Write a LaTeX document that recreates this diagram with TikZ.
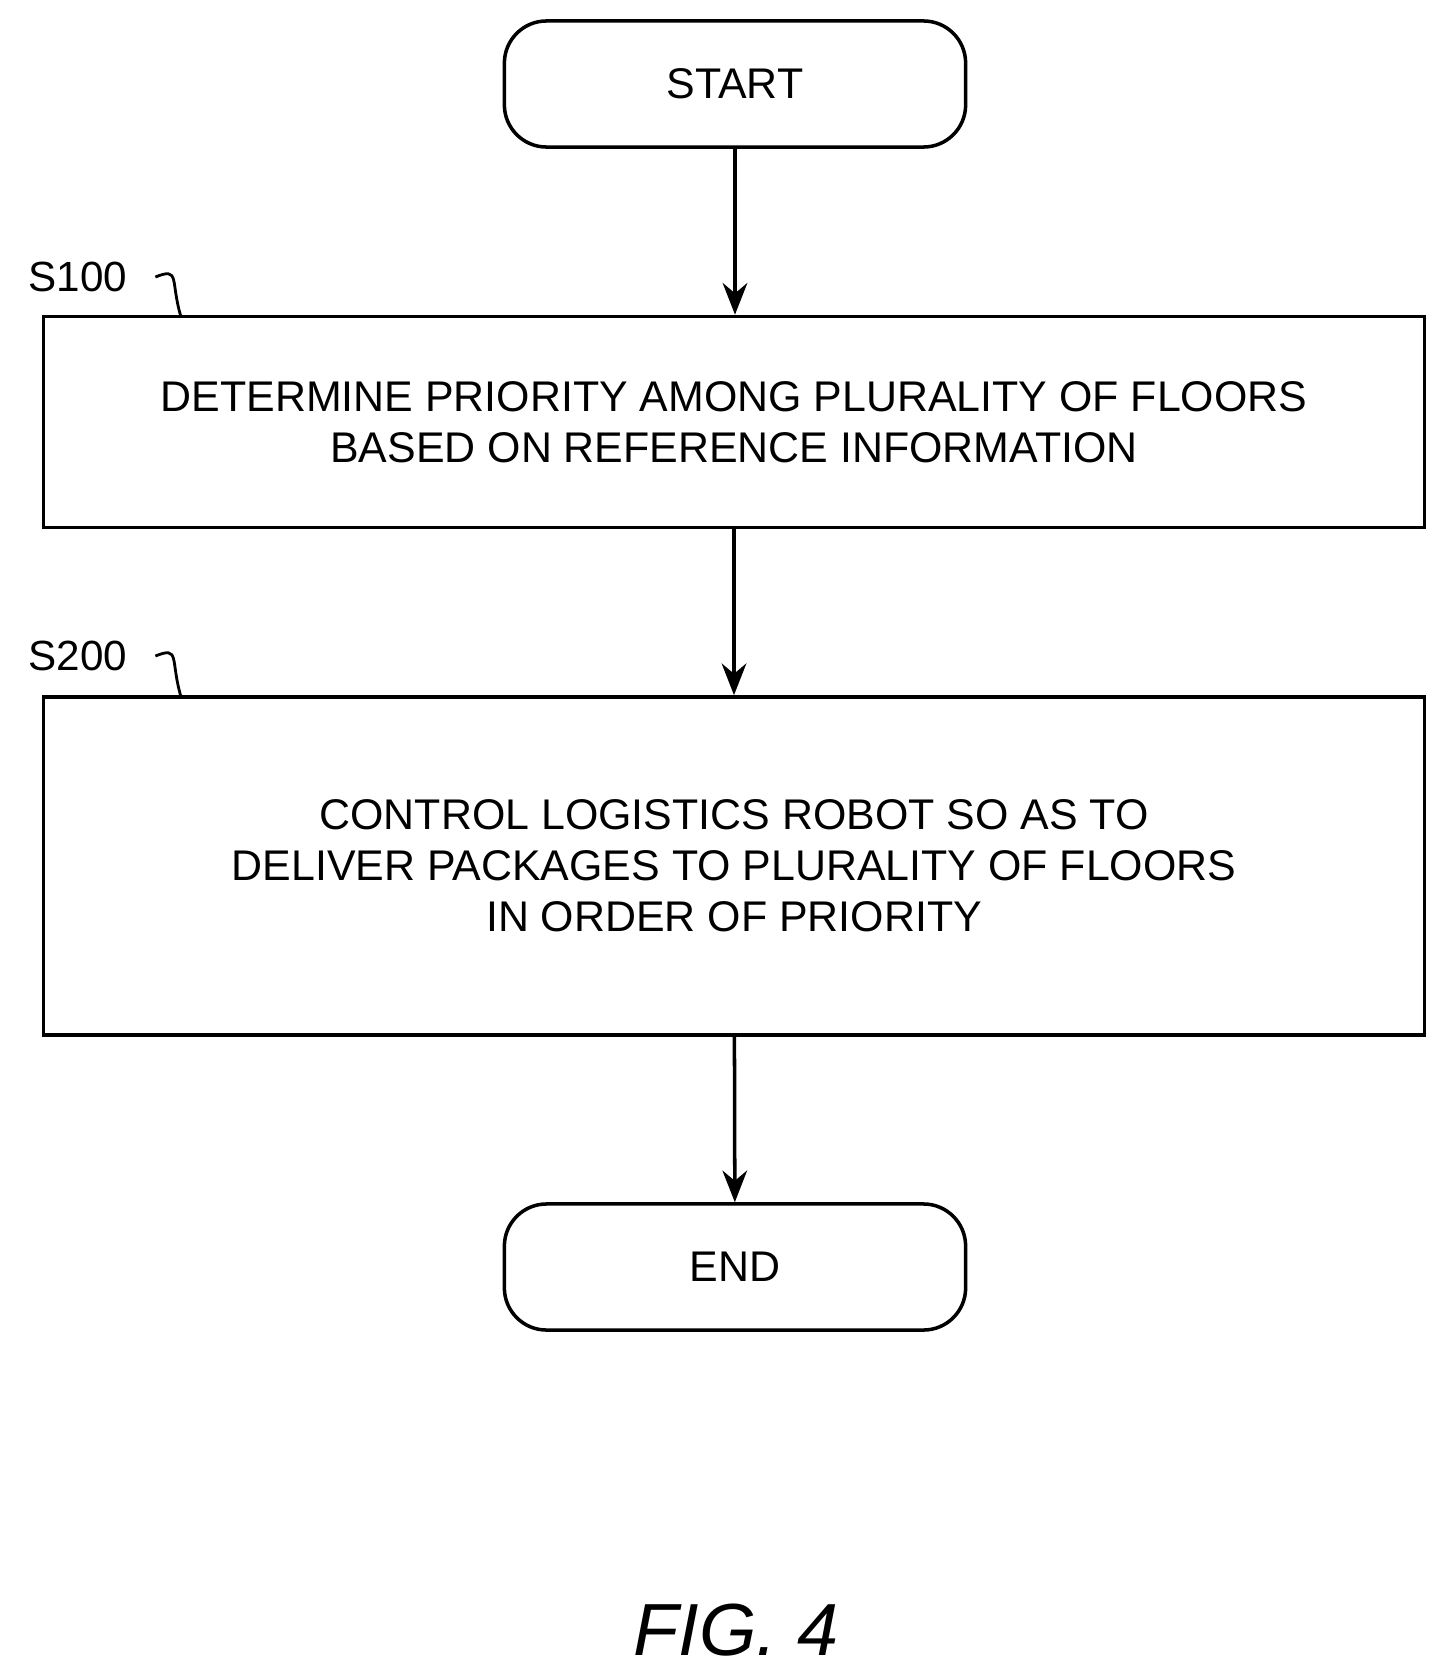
\documentclass[tikz,border=0pt]{standalone}
\usepackage{fontspec}
\setmainfont{Liberation Sans}
\usetikzlibrary{arrows.meta,positioning}
\tikzset{
  flow/.style={draw, line width=1pt, align=center, font=\fontsize{12.2}{14.5}\selectfont},
  term/.style={flow, rounded corners=12pt, minimum width=4.61cm, minimum height=1.26cm},
  proc/.style={flow, minimum width=13.8cm},
  link/.style={-{Stealth[length=9pt,width=7pt]}, line width=1pt},
  tag/.style={font=\fontsize{12}{14}\selectfont}
}
\begin{document}
\begin{tikzpicture}[x=0.01cm,y=-0.01cm]
    \useasboundingbox (0,0) rectangle (1451,1679);
    \node[term] (start) at (735,84) {START};
    \node[proc, minimum height=2.11cm] (s100) at (734,422) {DETERMINE PRIORITY AMONG PLURALITY OF FLOORS\\BASED ON REFERENCE INFORMATION};
    \node[proc, minimum height=3.38cm] (s200) at (734,866) {CONTROL LOGISTICS ROBOT SO AS TO\\DELIVER PACKAGES TO PLURALITY OF FLOORS\\IN ORDER OF PRIORITY};
    \node[term] (end) at (735,1267) {END};

    \draw[link] (start) -- (start |- s100.north);
    \draw[link] (s100) -- (s100 |- s200.north);
    \draw[link] (s200) -- (end);

    % step labels
    \node[tag, anchor=west] (t100) at (16,277) {S100};
    \node[tag, anchor=west] (t200) at (16,656) {S200};
    \draw[line width=0.8pt] (t100.east) ++(16,0) coordinate (c100) .. controls ++(25,-10) and (170,280) .. (181,317);
    \draw[line width=0.8pt] (t200.east) ++(16,0) coordinate (c200) .. controls ++(25,-10) and (170,659) .. (181,697);

    \node[font=\itshape\fontsize{21}{24}\selectfont] (fig) at (736,1630) {FIG. 4};
\end{tikzpicture}
\end{document}
